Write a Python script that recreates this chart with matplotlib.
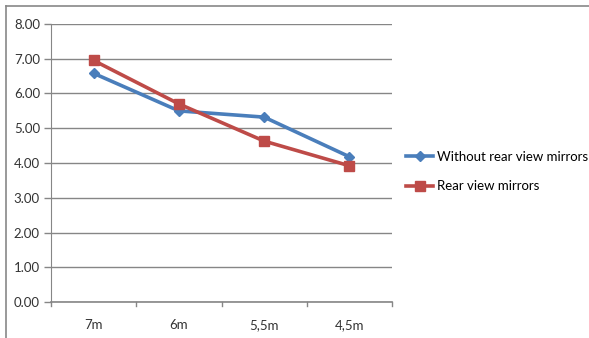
import matplotlib.pyplot as plt
from matplotlib.lines import Line2D

# data
categories = ['7m', '6m', '5,5m', '4,5m']
without_mirrors = [6.58, 5.50, 5.32, 4.18]
with_mirrors = [6.95, 5.70, 4.63, 3.92]
y_ticks = [0, 1, 2, 3, 4, 5, 6, 7, 8]

blue = '#4a7ebb'
red = '#be4b48'
grid_col = '#868686'

plt.rcParams['font.family'] = ['Lato', 'DejaVu Sans']

fig = plt.figure(figsize=(5.89, 3.38), dpi=100)
ax = fig.add_axes([0.0866, 0.1065, 0.579, 0.8225])

x = range(len(categories))
ax.plot(x, without_mirrors, color=blue, lw=2.6, marker='D', ms=5.5,
        mfc=blue, mec=blue, label='Without rear view mirrors')
ax.plot(x, with_mirrors, color=red, lw=2.6, marker='s', ms=7.5,
        mfc=red, mec=red, label='Rear view mirrors')

ax.set_xlim(-0.5, len(categories) - 0.5)
ax.set_ylim(0, 8)
ax.set_yticks(y_ticks)
ax.set_yticklabels([f'{v:.2f}' for v in y_ticks], fontsize=9.5, color='#333333')
ax.set_xticks(x)
ax.set_xticklabels(categories, fontsize=9.5, color='#333333')
ax.tick_params(axis='x', length=0, pad=12)
ax.tick_params(axis='y', length=5, color=grid_col, width=1, pad=3)

# category boundary ticks below the x axis
for b in [i - 0.5 for i in range(len(categories) + 1)]:
    ax.plot([b, b], [0, -0.12], color=grid_col, lw=1, clip_on=False)

ax.grid(axis='y', color=grid_col, lw=1)
ax.set_axisbelow(True)
for s in ['top', 'right']:
    ax.spines[s].set_visible(False)
ax.spines['left'].set_color(grid_col)
ax.spines['bottom'].set_color(grid_col)
ax.spines['bottom'].set_linewidth(1.2)

leg = fig.legend(handles=[
    Line2D([], [], color=blue, lw=2.6, marker='D', ms=5.5),
    Line2D([], [], color=red, lw=2.6, marker='s', ms=7.5)],
    labels=['Without rear view mirrors', 'Rear view mirrors'],
    loc='upper left', bbox_to_anchor=(0.683, 0.565), frameon=False,
    fontsize=9.5, handlelength=2.05, handletextpad=0.3, labelspacing=1.3,
    borderpad=0.3, borderaxespad=0.0)

# picture frame (top and left edges)
fig.add_artist(Line2D([6 / 589, 1], [1 - 6 / 338, 1 - 6 / 338],
                      color='#888888', lw=1.2, transform=fig.transFigure))
fig.add_artist(Line2D([6 / 589, 6 / 589], [0, 1 - 6 / 338],
                      color='#888888', lw=1.2, transform=fig.transFigure))

fig.savefig('out.png', dpi=100)
